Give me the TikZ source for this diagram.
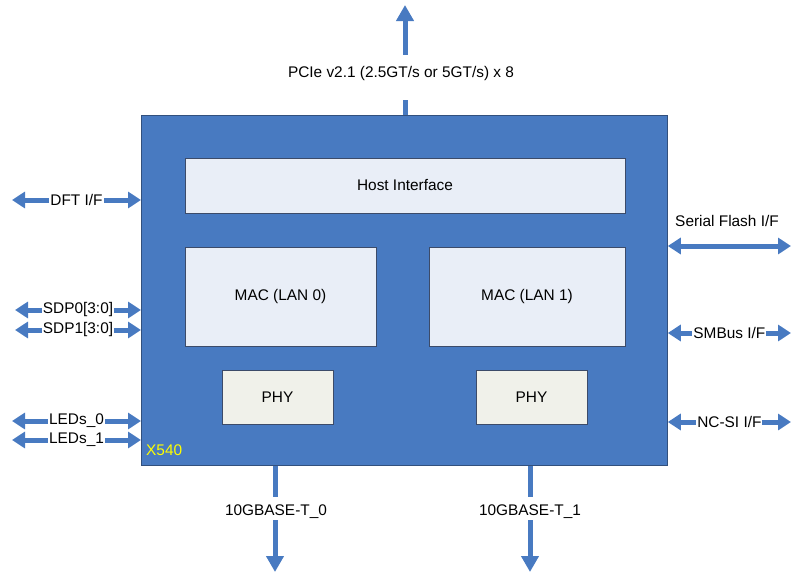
\documentclass[tikz,border=0pt]{standalone}
\usepackage{fontspec}
\setmainfont{Liberation Sans}
\usetikzlibrary{arrows.meta}
\definecolor{chipblue}{RGB}{72,122,193}
\definecolor{chipedge}{RGB}{50,80,125}
\definecolor{blockfill}{RGB}{233,238,247}
\definecolor{phyfill}{RGB}{240,241,234}
\definecolor{blockedge}{RGB}{60,75,105}
\definecolor{lblyellow}{RGB}{255,255,0}
\tikzset{
  chip/.style={draw=chipedge, line width=0.8pt, fill=chipblue, anchor=north west, inner sep=0pt},
  block/.style={draw=blockedge, line width=0.6pt, fill=blockfill, inner sep=0pt},
  phyblock/.style={draw=blockedge, line width=0.6pt, fill=phyfill, inner sep=0pt},
  harrow/.style={draw=chipblue, line width=5pt, {Triangle[width=16pt,length=13pt]}-{Triangle[width=16pt,length=13pt]}},
  varrow/.style={draw=chipblue, line width=5pt, -{Triangle[width=17pt,length=16pt]}},
  lbl/.style={fill=white, inner xsep=1pt, inner ysep=1pt},
}
\begin{document}
\begin{tikzpicture}[x=1pt,y=-1pt, font=\fontsize{15.4}{18}\selectfont]
\useasboundingbox (0,0) rectangle (793,573);
\node[chip, minimum width=526pt, minimum height=350pt] (x540) at (141,115) {};
\node[block, minimum width=440pt, minimum height=55pt] (host) at (405,185.5) {Host Interface};
\node[block, minimum width=191pt, minimum height=99pt] (mac0) at (280.5,296.5) {MAC (LAN 0)};
\node[block, minimum width=196pt, minimum height=99pt] (mac1) at (527,296.5) {MAC (LAN 1)};
\node[phyblock, minimum width=111pt, minimum height=54pt] (phy0) at (277.5,397) {PHY};
\node[phyblock, minimum width=111pt, minimum height=54pt] (phy1) at (531.5,397) {PHY};
\node[anchor=west, text=lblyellow, inner sep=0pt] (name) at (146,450) {X540};

% top PCIe arrow
\coordinate (pcieTip) at (405,5);
\draw[varrow] (x540.north -| pcieTip) -- (pcieTip);
\node[fill=white, inner xsep=2pt, inner ysep=0pt, text height=22pt, text depth=23pt, anchor=base] (pcie) at (401,77) {PCIe v2.1 (2.5GT/s or 5GT/s) x 8};

% bottom arrows
\coordinate (t0tip) at (275,572);
\coordinate (t1tip) at (530,572);
\draw[varrow] (x540.south -| t0tip) -- (t0tip);
\draw[varrow] (x540.south -| t1tip) -- (t1tip);
\node[fill=white, inner xsep=2pt, inner ysep=0pt, text height=18pt, text depth=5pt, anchor=base] (t0) at (276,515) {10GBASE-T\_0};
\node[fill=white, inner xsep=2pt, inner ysep=0pt, text height=18pt, text depth=5pt, anchor=base] (t1) at (530,515) {10GBASE-T\_1};

% left arrows
\coordinate (dft) at (12,200);
\coordinate (sdp0) at (15,310);
\coordinate (sdp1) at (15,330);
\coordinate (led0) at (12,421);
\coordinate (led1) at (12,440);
\draw[harrow] (dft) -- (dft -| x540.west) node[midway, lbl] (dftl) {DFT I/F};
\draw[harrow] (sdp0) -- (sdp0 -| x540.west) node[midway, lbl] (sdp0l) {SDP0[3:0]};
\draw[harrow] (sdp1) -- (sdp1 -| x540.west) node[midway, lbl] (sdp1l) {SDP1[3:0]};
\draw[harrow] (led0) -- (led0 -| x540.west) node[midway, lbl] (led0l) {LEDs\_0};
\draw[harrow] (led1) -- (led1 -| x540.west) node[midway, lbl] (led1l) {LEDs\_1};

% right arrows
\coordinate (sf) at (791,246);
\coordinate (smb) at (791,333);
\coordinate (ncsi) at (791,422);
\draw[harrow] (sf -| x540.east) -- (sf);
\node (sfl) at (727,221) {Serial Flash I/F};
\draw[harrow] (smb -| x540.east) -- (smb) node[midway, lbl] (smbl) {SMBus I/F};
\draw[harrow] (ncsi -| x540.east) -- (ncsi) node[midway, lbl] (ncsil) {NC-SI I/F};
\end{tikzpicture}
\end{document}
